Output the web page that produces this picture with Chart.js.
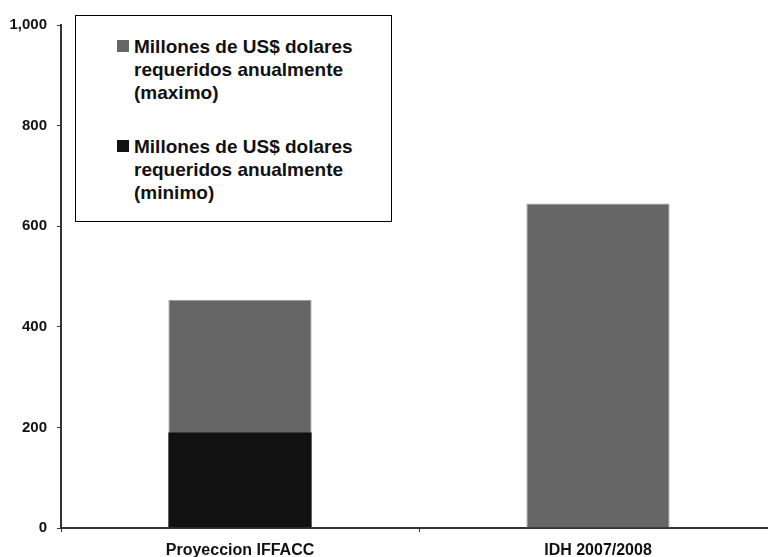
<!DOCTYPE html>
<html>
<head>
<meta charset="utf-8">
<script src="https://cdn.jsdelivr.net/npm/chart.js@4"></script>
<style>
  html, body { margin: 0; padding: 0; background: #fff; overflow: hidden; width: 768px; height: 557px; }
  #wrap { position: relative; width: 777px; height: 557px; }
  #legend {
    position: absolute; left: 75px; top: 15px; width: 315px; height: 205px;
    border: 1px solid #000; background: #fff; box-sizing: content-box;
    font-family: "Liberation Sans", Arial, sans-serif; font-weight: bold; font-size: 19px;
    line-height: 23px; color: #111;
  }
  .item { position: absolute; left: 41px; display: flex; align-items: flex-start; }
  .mk { width: 12px; height: 12px; margin-top: 5px; margin-right: 5px; flex: none; }
  .txt { width: 245px; }
</style>
</head>
<body>
<div id="wrap">
  <canvas id="c" width="777" height="557"></canvas>
  <div id="legend"></div>
</div>
<script>
const categories = ['Proyeccion IFFACC', 'IDH 2007/2008'];
const maxLabel = 'Millones de US$ dolares requeridos anualmente (maximo)';
const minLabel = 'Millones de US$ dolares requeridos anualmente (minimo)';
const maxValues = [454, 645];
const minValues = [190, null];
const yTicks = [0, 200, 400, 600, 800, 1000];
const maxColor = '#666666';
const minColor = '#111111';

const fam = '"Liberation Sans", Arial, sans-serif';

// HTML legend built from the series labels
const legendEl = document.getElementById('legend');
[[maxLabel, maxColor, 19], [minLabel, minColor, 119]].forEach(([lab, col, top]) => {
  const it = document.createElement('div');
  it.className = 'item';
  it.style.top = top + 'px';
  const mk = document.createElement('div');
  mk.className = 'mk'; mk.style.background = col;
  const tx = document.createElement('div');
  tx.className = 'txt'; tx.textContent = lab;
  it.appendChild(mk); it.appendChild(tx);
  legendEl.appendChild(it);
});

new Chart(document.getElementById('c'), {
  type: 'bar',
  data: {
    labels: categories,
    datasets: [
      { label: minLabel, data: minValues, backgroundColor: minColor, borderWidth: 0,
        barPercentage: 0.4, categoryPercentage: 1.0 },
      { label: maxLabel, data: maxValues, backgroundColor: maxColor, borderColor: '#9a9a9a', borderWidth: 1,
        barPercentage: 0.4, categoryPercentage: 1.0 }
    ]
  },
  options: {
    responsive: false,
    animation: false,
    devicePixelRatio: 1,
    layout: { padding: { top: 25, right: 0, left: 0, bottom: 0 } },
    plugins: { legend: { display: false }, tooltip: { enabled: false } },
    scales: {
      x: {
        stacked: true,
        afterFit: (s) => { s.height = 29; },
        grid: { display: true, drawOnChartArea: false, offset: true, tickLength: 4, color: '#333' },
        border: { display: true, color: '#333', width: 2 },
        ticks: { font: { family: fam, weight: 'bold', size: 16 }, color: '#111', padding: 9, maxRotation: 0 }
      },
      y: {
        stacked: false,
        min: 0, max: 1000,
        afterFit: (s) => { s.width = 61; },
        afterBuildTicks: (s) => { s.ticks = yTicks.map(v => ({ value: v })); },
        grid: { display: true, drawOnChartArea: false, tickLength: 4, color: '#333' },
        border: { display: true, color: '#333', width: 2 },
        ticks: { font: { family: fam, weight: 'bold', size: 15 }, color: '#111', padding: 10,
          callback: (v) => v.toLocaleString('en-US') }
      }
    }
  }
});
</script>
</body>
</html>
